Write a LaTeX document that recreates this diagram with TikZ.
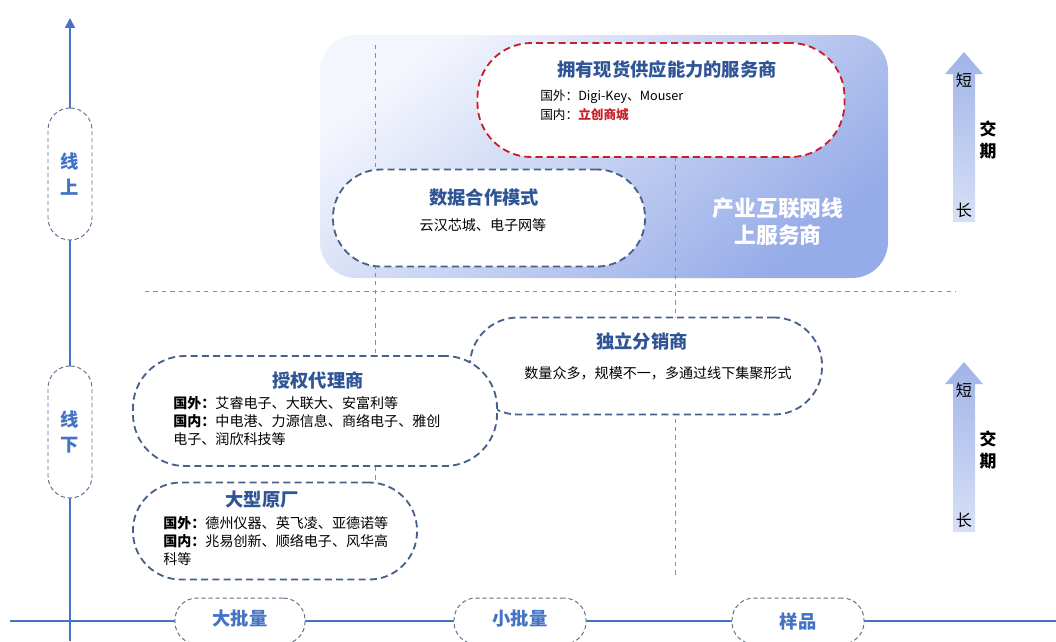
\documentclass[tikz,border=0pt]{standalone}
\usepackage{fontspec}
\setmainfont{Noto Sans CJK SC}
\usetikzlibrary{arrows.meta}
\definecolor{axisblue}{RGB}{68,114,196}
\definecolor{titleblue}{RGB}{47,85,151}
\definecolor{pillblue}{RGB}{72,96,140}
\definecolor{axisgray}{RGB}{100,115,140}
\definecolor{guidegray}{RGB}{140,140,140}
\definecolor{dashred}{RGB}{200,30,40}
\definecolor{shadelight}{RGB}{244,246,253}
\definecolor{shadedeep}{RGB}{150,172,232}
\definecolor{arrowtop}{RGB}{160,180,232}
\definecolor{arrowbot}{RGB}{215,224,246}

\begin{document}
\begin{tikzpicture}[
    x=0.025cm,y=-0.025cm,
    pill/.style={draw=pillblue,dashed,dash pattern=on 5pt off 3pt,line width=1.3pt,
      fill=white,rounded corners=1.2cm,inner sep=0pt},
    axispill/.style={draw=axisgray,densely dashed,line width=0.7pt,fill=white,inner sep=0pt},
    title/.style={font=\bfseries\fontsize{13}{15}\selectfont,text=titleblue},
    body/.style={font=\fontsize{10}{12.8}\selectfont,align=left,anchor=west,inner sep=0pt},
    axislabel/.style={font=\bfseries\fontsize{13}{18}\selectfont,text=axisblue,align=center},
    guide/.style={draw=guidegray,dashed,line width=0.6pt},
    axis/.style={draw=axisblue,line width=1.1pt}
  ]
    \useasboundingbox (0,0) rectangle (1056,641);

    % online service area
    \shade[rounded corners=0.9cm,top color=shadelight,bottom color=shadedeep,shading angle=40]
      (320,35) rectangle (888,278);
    \node[font=\bfseries\fontsize{15.5}{19}\selectfont,text=white,align=center] (platform)
      at (778,222) {产业互联网线\\上服务商};

    % guide lines
    \coordinate (gl1) at (375,45);
    \coordinate (gl2) at (375,485);
    \coordinate (gr1) at (675,157);
    \coordinate (gr2) at (675,575);
    \coordinate (gh1) at (145,291);
    \coordinate (gh2) at (955,291);
    \draw[guide] (gl1) -- (gl2);
    \draw[guide] (gr1) -- (gr2);
    \draw[guide] (gh1) -- (gh2);

    % axes
    \coordinate (ybot) at (70,641);
    \coordinate (ytop) at (70,18);
    \coordinate (xleft) at (10,621);
    \coordinate (xright) at (1056,621);
    \draw[axis,-{Triangle[length=7pt,width=7pt]}] (ybot) -- (ytop);
    \draw[axis] (xleft) -- (xright);

    \node[axispill,minimum width=1.1cm,minimum height=3.3cm,rounded corners=0.55cm] (online) at (70,174) {};
    \node[axislabel] (onlinet) at (online) {线\\上};
    \node[axispill,minimum width=1.1cm,minimum height=3.3cm,rounded corners=0.55cm] (offline) at (70,432) {};
    \node[axislabel] (offlinet) at (offline) {线\\下};

    \node[axispill,minimum width=3.25cm,minimum height=1.15cm,rounded corners=0.55cm] (bulk) at (240,621) {};
    \node[axislabel] at (240,619) {大批量};
    \node[axispill,minimum width=3.3cm,minimum height=1.15cm,rounded corners=0.55cm] (small) at (520,621) {};
    \node[axislabel] at (520,619) {小批量};
    \node[axispill,minimum width=3.3cm,minimum height=1.15cm,rounded corners=0.55cm] (sample) at (798,621) {};
    \node[axislabel] at (798,621) {样品};

    % suppliers
    \node[pill,draw=dashred,minimum width=9.175cm,minimum height=2.85cm,rounded corners=1.35cm] (stock) at (661,100) {};
    \node[title] (stockt) at (667,70) {拥有现货供应能力的服务商};
    \node[body,font=\fontsize{9}{11}\selectfont] (stocka) at (540,97) {国外：Digi-Key、Mouser};
    \node[body,font=\fontsize{9}{11}\selectfont] (stockb) at (540,115) {国内：\textcolor{dashred}{\bfseries 立创商城}};

    \node[pill,minimum width=7.8cm,minimum height=2.425cm] (data) at (489,218) {};
    \node[title] (datat) at (484,198) {数据合作模式};
    \node[body,anchor=center] (datab) at (483,225) {云汉芯城、电子网等};

    \node[pill,minimum width=8.8cm,minimum height=2.425cm] (dist) at (646,366) {};
    \node[title] (distt) at (642,341) {独立分销商};
    \node[body,anchor=center] (distb) at (658,373) {数量众多，规模不一，多通过线下集聚形式};

    \node[pill,minimum width=9.1cm,minimum height=2.75cm,rounded corners=1.3cm] (agent) at (315,411) {};
    \node[title] (agentt) at (318,381) {授权代理商};
    \node[body] (agentb) at (173,421) {\textbf{国外：}艾睿电子、大联大、安富利等\\
      \textbf{国内：}中电港、力源信息、商络电子、雅创\\电子、润欣科技等};

    \node[pill,minimum width=7.1cm,minimum height=2.425cm] (maker) at (275,531) {};
    \node[title] (makert) at (262,500) {大型原厂};
    \node[body] (makerb) at (163,541) {\textbf{国外：}德州仪器、英飞凌、亚德诺等\\
      \textbf{国内：}兆易创新、顺络电子、风华高\\科等};

    % lead time arrows
    \foreach \ay/\nm in {52/upper,362/lower}{
      \shade[top color=arrowtop,bottom color=arrowbot]
        (953,\ay+170) -- (953,\ay+22) -- (945,\ay+22) -- (964,\ay) -- (983,\ay+22)
        -- (975,\ay+22) -- (975,\ay+170) -- cycle;
      \node[font=\fontsize{11.5}{13}\selectfont] (short\nm) at (964,\ay+28) {短};
      \node[font=\fontsize{11.5}{13}\selectfont] (long\nm) at (964,\ay+158) {长};
      \node[font=\bfseries\fontsize{12}{15}\selectfont,align=center] (lead\nm) at (988,\ay+88) {交\\期};
    }
  \end{tikzpicture}
\end{document}
